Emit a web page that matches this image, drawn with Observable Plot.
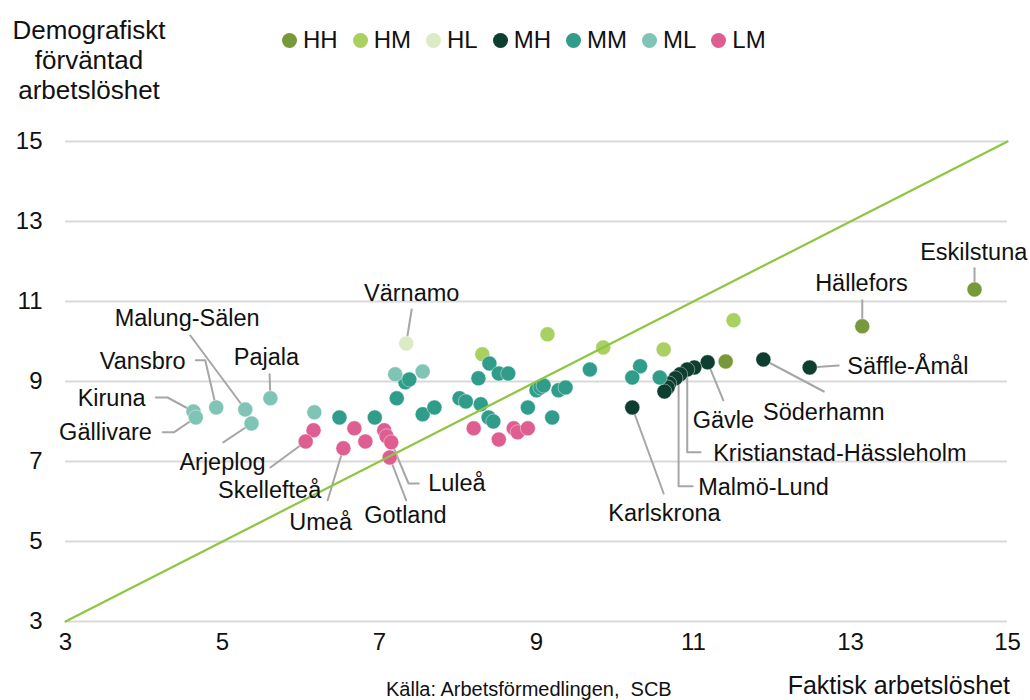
<!DOCTYPE html>
<html>
<head>
<meta charset="utf-8">
<script src="https://cdn.jsdelivr.net/npm/d3@7"></script>
<script src="https://cdn.jsdelivr.net/npm/@observablehq/plot@0.6"></script>
<style>
  html, body { margin: 0; padding: 0; background: #fff; }
  body { width: 1030px; height: 700px; overflow: hidden; font-family: "Liberation Sans", Arial, sans-serif; color: #000; }
  #header { position: relative; height: 120px; }
  #ytitle { position: absolute; left: 0; top: 15px; width: 178px; text-align: center; font-size: 26px; line-height: 30px; color: #111; }
  #legend { position: absolute; left: 282px; top: 26px; display: flex; align-items: center; font-size: 24px; color: #111; }
  #legend .item { display: flex; align-items: center; margin-right: 15px; }
  #legend .dot { width: 15px; height: 15px; border-radius: 50%; margin-right: 6px; }
  #footer { position: relative; height: 35px; }
  #source { position: absolute; left: 386px; top: 14px; font-size: 20px; line-height: 1; color: #111; white-space: pre; }
  #xtitle { position: absolute; right: 20px; top: 8px; font-size: 25px; line-height: 1; color: #111; }
</style>
</head>
<body>
<div id="header">
  <div id="ytitle">Demografiskt<br>förväntad<br>arbetslöshet</div>
  <div id="legend"></div>
</div>
<div id="chart"></div>
<div id="footer">
  <div id="source">Källa: Arbetsförmedlingen,  SCB</div>
  <div id="xtitle">Faktisk arbetslöshet</div>
</div>
<script>
// ---- data ----
const tickValues = [3, 5, 7, 9, 11, 13, 15];
const diagonal = [3, 15];
const groups = ["HH", "HM", "HL", "MH", "MM", "ML", "LM"];
const groupColors = ["#77993a", "#a9d162", "#dcebc5", "#0d3e2f", "#2f9d89", "#80c4b6", "#df5e91"];

// faktisk arbetslöshet (x), demografiskt förväntad (y), grupp
const actual = [
  11.41, 13.15, 14.58,
  8.31, 9.14, 9.85, 10.62, 11.51,
  7.34,
  10.22, 11.18, 11.01, 10.92, 10.83, 10.77, 10.69, 10.67, 10.63, 11.89, 12.48,
  6.49, 6.94, 7.33, 7.38, 7.22, 7.55, 7.70, 8.40, 8.52, 8.64, 8.26, 9.68, 8.02, 8.10, 8.29, 8.39, 8.45, 8.89, 9.00, 9.05, 9.09, 9.28, 9.37, 9.20, 10.32, 10.22, 10.57,
  4.63, 4.66, 4.92, 5.29, 5.37, 5.61, 6.17, 7.20, 7.55,
  6.16, 6.06, 6.68, 6.82, 6.54, 7.06, 7.09, 7.15, 7.13, 8.20, 8.52, 8.71, 8.76, 8.89
];
const expected = [
  9.50, 10.38, 11.30,
  9.68, 10.18, 9.85, 9.80, 10.53,
  9.95,
  8.35, 9.48, 9.35, 9.30, 9.18, 9.08, 8.95, 8.85, 8.75, 9.55, 9.35,
  8.10, 8.10, 8.98, 9.05, 8.58, 8.18, 8.35, 9.45, 9.20, 9.20, 9.08, 9.30, 8.58, 8.50, 8.43, 8.10, 8.00, 8.35, 8.78, 8.85, 8.90, 8.78, 8.85, 8.10, 9.38, 9.10, 9.10,
  8.25, 8.10, 8.35, 8.30, 7.95, 8.58, 8.23, 9.18, 9.25,
  7.78, 7.50, 7.83, 7.50, 7.33, 7.78, 7.63, 7.48, 7.10, 7.83, 7.55, 7.83, 7.73, 7.83
];
const group = [
  ...Array(3).fill("HH"), ...Array(5).fill("HM"), "HL", ...Array(11).fill("MH"),
  ...Array(27).fill("MM"), ...Array(9).fill("ML"), ...Array(14).fill("LM")
];

// annotations: label text position and leader path (in data units)
const annotations = [
  {name: "Eskilstuna", anchor: "middle", tx: 14.57, ty: 12.23, path: [[14.58, 11.83], [14.58, 11.30]]},
  {name: "Hällefors", anchor: "middle", tx: 13.14, ty: 11.45, path: [[13.15, 11.03], [13.15, 10.38]]},
  {name: "Säffle-Åmål", anchor: "start", tx: 12.96, ty: 9.38, path: [[12.48, 9.35], [12.85, 9.40]]},
  {name: "Söderhamn", anchor: "middle", tx: 12.66, ty: 8.23, path: [[11.89, 9.55], [12.66, 8.75]]},
  {name: "Gävle", anchor: "middle", tx: 11.38, ty: 8.03, path: [[11.18, 9.48], [11.38, 8.53]]},
  {name: "Kristianstad-Hässleholm", anchor: "start", tx: 11.25, ty: 7.20, path: [[10.92, 9.30], [10.92, 7.23], [11.09, 7.23]]},
  {name: "Malmö-Lund", anchor: "start", tx: 11.06, ty: 6.35, path: [[10.81, 9.18], [10.81, 6.38], [10.99, 6.38]]},
  {name: "Karlskrona", anchor: "middle", tx: 10.63, ty: 5.70, path: [[10.22, 8.35], [10.62, 6.20]]},
  {name: "Värnamo", anchor: "middle", tx: 7.41, ty: 11.20, path: [[7.41, 10.80], [7.34, 9.95]]},
  {name: "Luleå", anchor: "start", tx: 7.62, ty: 6.45, path: [[7.15, 7.48], [7.37, 6.45], [7.50, 6.45]]},
  {name: "Gotland", anchor: "middle", tx: 7.33, ty: 5.65, path: [[7.13, 7.10], [7.34, 6.03]]},
  {name: "Umeå", anchor: "middle", tx: 6.25, ty: 5.48, path: [[6.54, 7.33], [6.34, 6.03]]},
  {name: "Skellefteå", anchor: "middle", tx: 5.60, ty: 6.27, path: [[6.06, 7.50], [5.61, 6.85]]},
  {name: "Arjeplog", anchor: "middle", tx: 5.00, ty: 6.98, path: [[5.37, 7.95], [5.01, 7.48]]},
  {name: "Gällivare", anchor: "end", tx: 4.10, ty: 7.73, path: [[4.24, 7.73], [4.38, 7.73], [4.66, 8.10]]},
  {name: "Kiruna", anchor: "end", tx: 4.02, ty: 8.58, path: [[4.15, 8.60], [4.30, 8.60], [4.63, 8.25]]},
  {name: "Vansbro", anchor: "end", tx: 4.53, ty: 9.50, path: [[4.66, 9.53], [4.78, 9.53], [4.92, 8.35]]},
  {name: "Malung-Sälen", anchor: "middle", tx: 4.55, ty: 10.58, path: [[4.59, 10.15], [5.29, 8.30]]},
  {name: "Pajala", anchor: "middle", tx: 5.56, ty: 9.60, path: [[5.60, 9.18], [5.61, 8.58]]}
];

// ---- build ----
const points = actual.map((x, i) => ({x, y: expected[i], g: group[i]}));
const leaderPts = annotations.flatMap(a => a.path.map(p => ({name: a.name, x: p[0], y: p[1]})));
const colorOf = Object.fromEntries(groups.map((g, i) => [g, groupColors[i]]));

const legend = document.getElementById("legend");
groups.forEach((g, i) => {
  const it = document.createElement("div");
  it.className = "item";
  it.innerHTML = `<span class="dot" style="background:${groupColors[i]}"></span><span>${g}</span>`;
  legend.appendChild(it);
});

const textOpts = {fontSize: 23.5, fill: "#111", fontFamily: "Liberation Sans, Arial, sans-serif"};

const plot = Plot.plot({
  width: 1030,
  height: 545,
  marginLeft: 65,
  marginRight: 23,
  marginTop: 21,
  marginBottom: 44,
  style: {fontFamily: "Liberation Sans, Arial, sans-serif", fontSize: "24px", color: "#111", background: "#fff"},
  x: {domain: [3, 15], ticks: tickValues, tickSize: 0, tickPadding: 11, label: null},
  y: {domain: [3, 15], ticks: tickValues, tickSize: 0, tickPadding: 23, label: null},
  color: {domain: groups, range: groupColors},
  marks: [
    Plot.ruleY(tickValues, {stroke: "#d9d9d9", strokeWidth: 2}),
    Plot.line(leaderPts, {x: "x", y: "y", z: "name", stroke: "#a6a6a6", strokeWidth: 2}),
    Plot.dot(points, {x: "x", y: "y", fill: d => colorOf[d.g], r: 7.5, stroke: "#fff", strokeWidth: 0.6, strokeOpacity: 0.7}),
    Plot.line(diagonal, {x: d => d, y: d => d, stroke: "#8dc63f", strokeWidth: 2.2}),
    Plot.text(annotations.filter(a => a.anchor === "middle"), {x: "tx", y: "ty", text: "name", textAnchor: "middle", ...textOpts}),
    Plot.text(annotations.filter(a => a.anchor === "start"), {x: "tx", y: "ty", text: "name", textAnchor: "start", ...textOpts}),
    Plot.text(annotations.filter(a => a.anchor === "end"), {x: "tx", y: "ty", text: "name", textAnchor: "end", ...textOpts})
  ]
});
document.getElementById("chart").appendChild(plot);
</script>
</body>
</html>
